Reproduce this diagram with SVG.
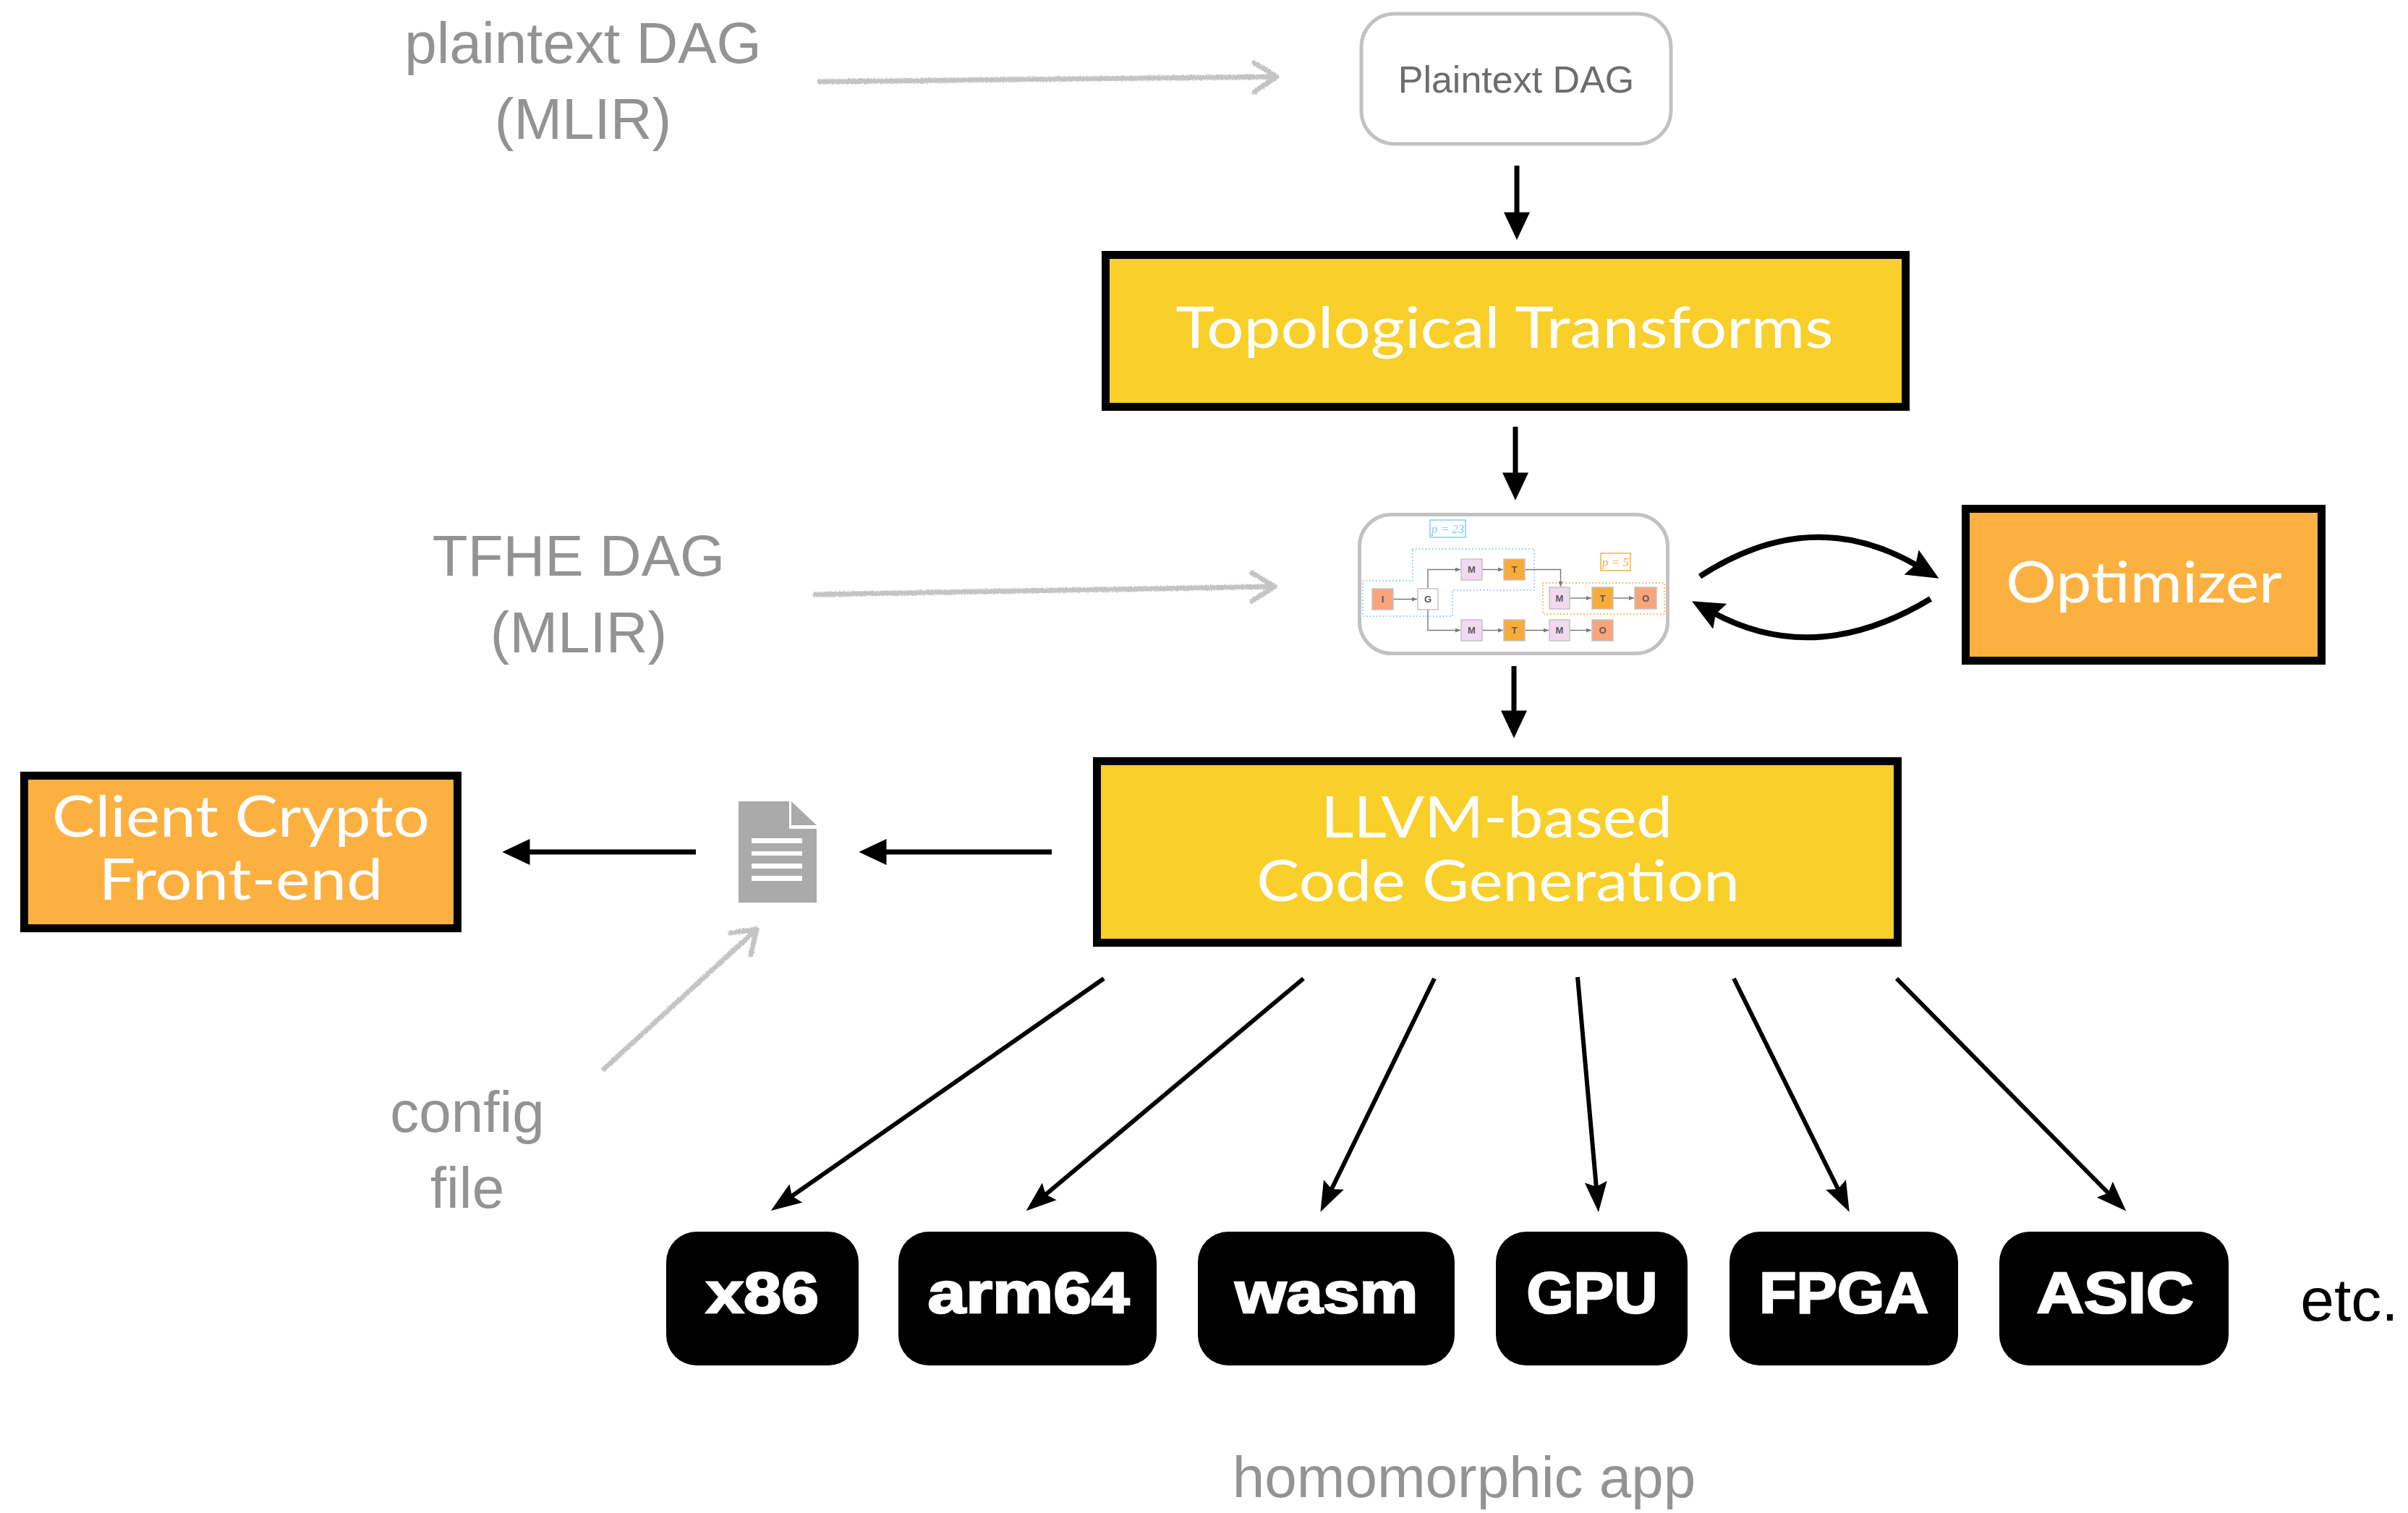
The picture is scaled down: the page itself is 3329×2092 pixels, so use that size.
<svg xmlns="http://www.w3.org/2000/svg" width="3329" height="2092" viewBox="0 0 3329 2092">
  <style>
    .note { font-family: "Liberation Sans", Arial, sans-serif; fill: #939393; font-size: 80px; text-anchor: middle; }
    .stage { stroke: #000; stroke-width: 11; }
    .yellow { fill: #F9CF29; }
    .orange { fill: #FCB040; }
    .stage-txt { font-family: Lato, "Liberation Sans", sans-serif; font-weight: 400; fill: #fff; font-size: 79px; text-anchor: middle; }
    .ir { fill: #fff; stroke: #c2c2c2; stroke-width: 5; }
    .target { fill: #000; }
    .target-txt { font-family: "Liberation Sans", Arial, sans-serif; font-weight: 700; fill: #fff; stroke: #fff; stroke-width: 2.5; font-size: 80px; text-anchor: middle; }
    .flow { fill: none; stroke: #000; stroke-width: 7; }
    .fan { fill: none; stroke: #000; stroke-width: 6; }
    .loop { fill: none; stroke: #000; stroke-width: 8; }
    .sketch { fill: none; stroke: #c4c4c4; stroke-width: 7; stroke-linecap: round; stroke-linejoin: round; }
    .op { stroke: #c4c4c4; stroke-width: 1.5; }
    .op-txt { font-family: "Liberation Sans", Arial, sans-serif; font-weight: 700; font-size: 13px; fill: #5a5a5a; text-anchor: middle; }
    .edge { fill: none; stroke: #7a7a7a; stroke-width: 1.4; }
  </style>
  <defs>
    <marker id="head" markerUnits="userSpaceOnUse" markerWidth="40" markerHeight="36" viewBox="0 0 36 34" refX="8" refY="17" orient="auto">
      <path d="M0,0 L36,17 L0,34 Z" fill="#000"/>
    </marker>
    <marker id="headFan" markerUnits="userSpaceOnUse" markerWidth="42" markerHeight="32" viewBox="0 0 38 28" refX="8" refY="14" orient="auto">
      <path d="M0,0 L38,14 L0,28 L6,14 Z" fill="#000"/>
    </marker>
    <marker id="headLoop" markerUnits="userSpaceOnUse" markerWidth="44" markerHeight="40" viewBox="0 0 40 36" refX="10" refY="18" orient="auto">
      <path d="M0,0 L40,18 L0,36 L6,18 Z" fill="#000"/>
    </marker>
    <marker id="tiny" markerUnits="userSpaceOnUse" markerWidth="7" markerHeight="6" viewBox="0 0 7 6" refX="7" refY="3" orient="auto">
      <path d="M0,0 L7,3 L0,6 Z" fill="#7a7a7a"/>
    </marker>
    <filter id="rough" x="-10%" y="-100%" width="120%" height="300%">
      <feTurbulence type="fractalNoise" baseFrequency="0.6" numOctaves="2" seed="7"/>
      <feDisplacementMap in="SourceGraphic" scale="5" xChannelSelector="R" yChannelSelector="G"/>
    </filter>
  </defs>

  <!-- side notes -->
  <g id="note-plaintext">
    <text class="note" x="806" y="87">plaintext DAG</text>
    <text class="note" x="806" y="192">(MLIR)</text>
  </g>
  <g id="note-tfhe">
    <text class="note" x="800" y="796" font-size="77">TFHE DAG</text>
    <text class="note" x="800" y="902" font-size="77">(MLIR)</text>
  </g>
  <g id="note-config">
    <text class="note" x="646" y="1565">config</text>
    <text class="note" x="646" y="1670">file</text>
  </g>
  <g id="note-app">
    <text class="note" x="2024" y="2070" font-size="85">homomorphic app</text>
  </g>

  <!-- plaintext DAG -->
  <g id="plaintext-dag">
    <rect class="ir" x="1882" y="19" width="428" height="180" rx="46"/>
    <text x="2096" y="128" font-family="Liberation Sans, Arial, sans-serif" font-size="52" fill="#6d6d6d" text-anchor="middle">Plaintext DAG</text>
  </g>

  <!-- topological transforms -->
  <g id="topological-transforms">
    <rect class="stage yellow" x="1528.5" y="352.5" width="1106" height="210"/>
    <text class="stage-txt" x="2080" y="481" textLength="909" lengthAdjust="spacingAndGlyphs">Topological Transforms</text>
  </g>

  <!-- TFHE DAG with its parameter partitions -->
  <g id="tfhe-dag">
    <rect class="ir" x="1879.5" y="711.5" width="426" height="192" rx="44"/>
    <polygon points="1953,759 2121,759 2121,816 2008,816 2008,852 1884,852 1884,803 1953,803" fill="none" stroke="#8ccaf7" stroke-width="2" stroke-dasharray="0.1 4.5" stroke-linecap="round"/>
    <rect x="2133" y="806" width="168" height="43" fill="none" stroke="#f8b046" stroke-width="2" stroke-dasharray="0.1 4.5" stroke-linecap="round"/>
    <rect x="1977" y="719" width="49" height="24" fill="#fff" stroke="#8ccaf7" stroke-width="1.5"/>
    <text x="2001.5" y="737" font-family="Liberation Serif, serif" font-style="italic" font-size="17" fill="#8ccaf7" text-anchor="middle">p = 23</text>
    <rect x="2213" y="765" width="41" height="24" fill="#fff" stroke="#f8b046" stroke-width="1.5"/>
    <text x="2233.5" y="783" font-family="Liberation Serif, serif" font-style="italic" font-size="17" fill="#f8b046" text-anchor="middle">p = 5</text>

    <path class="edge" d="M1926,828.5 H1959" marker-end="url(#tiny)"/>
    <path class="edge" d="M1974,814 V787.5 H2019" marker-end="url(#tiny)"/>
    <path class="edge" d="M2049,787.5 H2078" marker-end="url(#tiny)"/>
    <path class="edge" d="M2108,787.5 H2157.5 V811" marker-end="url(#tiny)"/>
    <path class="edge" d="M2170,827 H2200" marker-end="url(#tiny)"/>
    <path class="edge" d="M2230,827 H2259" marker-end="url(#tiny)"/>
    <path class="edge" d="M1974,843 V871.5 H2019" marker-end="url(#tiny)"/>
    <path class="edge" d="M2049,871.5 H2078" marker-end="url(#tiny)"/>
    <path class="edge" d="M2108,871.5 H2141" marker-end="url(#tiny)"/>
    <path class="edge" d="M2170,871.5 H2200" marker-end="url(#tiny)"/>

    <rect class="op" x="1897" y="814" width="29" height="29" fill="#f9a47c"/>
    <text class="op-txt" x="1911.5" y="833">I</text>
    <rect class="op" x="1960" y="814" width="28" height="29" fill="#fff"/>
    <text class="op-txt" x="1974" y="833">G</text>
    <rect class="op" x="2020" y="773" width="29" height="29" fill="#f1d9ef"/>
    <text class="op-txt" x="2034.5" y="792">M</text>
    <rect class="op" x="2079" y="773" width="29" height="29" fill="#f9ab3a"/>
    <text class="op-txt" x="2093.5" y="792">T</text>
    <rect class="op" x="2142" y="812" width="28" height="30" fill="#f1d9ef"/>
    <text class="op-txt" x="2156" y="832">M</text>
    <rect class="op" x="2201" y="812" width="29" height="30" fill="#f9ab3a"/>
    <text class="op-txt" x="2215.5" y="832">T</text>
    <rect class="op" x="2260" y="812" width="30" height="30" fill="#f9a47c"/>
    <text class="op-txt" x="2275" y="832">O</text>
    <rect class="op" x="2020" y="857" width="29" height="29" fill="#f1d9ef"/>
    <text class="op-txt" x="2034.5" y="876">M</text>
    <rect class="op" x="2079" y="857" width="29" height="29" fill="#f9ab3a"/>
    <text class="op-txt" x="2093.5" y="876">T</text>
    <rect class="op" x="2142" y="857" width="28" height="29" fill="#f1d9ef"/>
    <text class="op-txt" x="2156" y="876">M</text>
    <rect class="op" x="2201" y="857" width="29" height="29" fill="#f9a47c"/>
    <text class="op-txt" x="2215.5" y="876">O</text>
  </g>

  <!-- optimizer -->
  <g id="optimizer">
    <rect class="stage orange" x="2717.5" y="703.5" width="492" height="210"/>
    <text class="stage-txt" x="2964" y="833" textLength="382" lengthAdjust="spacingAndGlyphs">Optimizer</text>
  </g>

  <!-- code generation -->
  <g id="llvm-codegen">
    <rect class="stage yellow" x="1516.5" y="1052.5" width="1107" height="251"/>
    <text class="stage-txt" x="2069" y="1158" textLength="486" lengthAdjust="spacingAndGlyphs">LLVM-based</text>
    <text class="stage-txt" x="2071" y="1246" textLength="668" lengthAdjust="spacingAndGlyphs">Code Generation</text>
  </g>

  <!-- generated config file -->
  <g id="config-file" fill="#aaaaaa">
    <path d="M1021,1108 H1091 V1146 H1129 V1248 H1021 Z"/>
    <path d="M1094,1108 L1129,1141 H1094 Z"/>
    <g fill="#fff">
      <rect x="1039" y="1159" width="70" height="7"/>
      <rect x="1039" y="1177" width="70" height="6"/>
      <rect x="1039" y="1194" width="70" height="7"/>
      <rect x="1039" y="1211" width="70" height="7"/>
    </g>
  </g>

  <!-- client side -->
  <g id="client-crypto">
    <rect class="stage orange" x="33.5" y="1072.5" width="599" height="211"/>
    <text class="stage-txt" x="333" y="1157" textLength="522" lengthAdjust="spacingAndGlyphs">Client Crypto</text>
    <text class="stage-txt" x="333" y="1244" textLength="393" lengthAdjust="spacingAndGlyphs">Front-end</text>
  </g>

  <!-- compilation targets -->
  <g id="target-x86">
    <rect class="target" x="921" y="1703" width="266" height="185" rx="42"/>
    <text class="target-txt" x="1054" y="1815" textLength="156" lengthAdjust="spacingAndGlyphs">x86</text>
  </g>
  <g id="target-arm64">
    <rect class="target" x="1242" y="1703" width="357" height="185" rx="42"/>
    <text class="target-txt" x="1422" y="1815" textLength="279" lengthAdjust="spacingAndGlyphs">arm64</text>
  </g>
  <g id="target-wasm">
    <rect class="target" x="1656" y="1703" width="355" height="185" rx="42"/>
    <text class="target-txt" x="1834" y="1815" textLength="253" lengthAdjust="spacingAndGlyphs">wasm</text>
  </g>
  <g id="target-gpu">
    <rect class="target" x="2068" y="1703" width="265" height="185" rx="42"/>
    <text class="target-txt" x="2201" y="1815" textLength="181" lengthAdjust="spacingAndGlyphs">GPU</text>
  </g>
  <g id="target-fpga">
    <rect class="target" x="2391" y="1703" width="316" height="185" rx="42"/>
    <text class="target-txt" x="2549" y="1815" textLength="234" lengthAdjust="spacingAndGlyphs">FPGA</text>
  </g>
  <g id="target-asic">
    <rect class="target" x="2764" y="1703" width="317" height="185" rx="42"/>
    <text class="target-txt" x="2924" y="1815" textLength="217" lengthAdjust="spacingAndGlyphs">ASIC</text>
  </g>
  <g id="target-etc">
    <text x="3248" y="1826" font-family="Liberation Sans, Arial, sans-serif" font-size="84" fill="#000" text-anchor="middle">etc.</text>
  </g>

  <!-- connectors -->
  <g id="connectors">
    <path class="flow" d="M2097,229 V302" marker-end="url(#head)"/>
    <path class="flow" d="M2095,590 V662" marker-end="url(#head)"/>
    <path class="flow" d="M2093,921 V991" marker-end="url(#head)"/>
    <path class="flow" d="M1454,1178 H1217" marker-end="url(#head)"/>
    <path class="flow" d="M962,1178 H724" marker-end="url(#head)"/>

    <path class="loop" d="M2350,797 Q2505,696 2652,783" marker-end="url(#headLoop)"/>
    <path class="loop" d="M2669,828 Q2510,924 2368,847" marker-end="url(#headLoop)"/>

    <path class="fan" d="M1526,1353 L1093,1655" marker-end="url(#headFan)"/>
    <path class="fan" d="M1802,1353 L1444,1653" marker-end="url(#headFan)"/>
    <path class="fan" d="M1983,1353 L1840,1646" marker-end="url(#headFan)"/>
    <path class="fan" d="M2181,1351 L2207,1643" marker-end="url(#headFan)"/>
    <path class="fan" d="M2397,1353 L2542,1646" marker-end="url(#headFan)"/>
    <path class="fan" d="M2622,1353 L2916,1651" marker-end="url(#headFan)"/>

    <g filter="url(#rough)">
      <path class="sketch" d="M1133,113 L1765,106 M1734,87 L1765,106 L1734,127"/>
      <path class="sketch" d="M1127,822 L1762,811 M1731,792 L1762,811 L1731,831"/>
      <path class="sketch" d="M835,1478 L1046,1285 M1010,1290 L1046,1285 L1038,1320"/>
    </g>
  </g>
</svg>
